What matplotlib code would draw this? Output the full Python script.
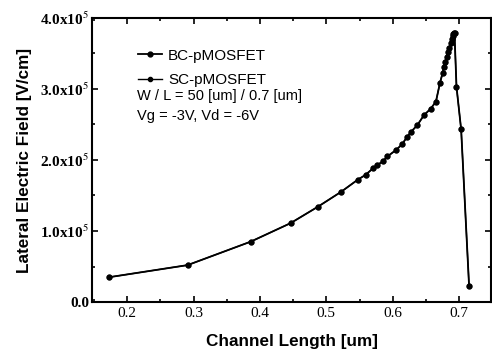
import numpy as np
import matplotlib.pyplot as plt
from matplotlib.ticker import MultipleLocator, FixedLocator

# channel position [um] and lateral field [1e5 V/cm]
bc_x = [0.173, 0.291, 0.386, 0.446, 0.487, 0.522, 0.547, 0.559, 0.570, 0.577,
        0.585, 0.592, 0.605, 0.614, 0.622, 0.628, 0.637, 0.647, 0.657, 0.665,
        0.671, 0.675, 0.677, 0.679, 0.681, 0.683, 0.685, 0.687, 0.689, 0.690,
        0.691, 0.692, 0.693, 0.696, 0.703, 0.715]
bc_y = [0.35, 0.52, 0.85, 1.11, 1.34, 1.55, 1.72, 1.79, 1.88, 1.93,
        1.98, 2.05, 2.14, 2.22, 2.33, 2.40, 2.49, 2.63, 2.72, 2.82,
        3.08, 3.22, 3.31, 3.38, 3.45, 3.52, 3.58, 3.64, 3.70, 3.74,
        3.77, 3.79, 3.78, 3.03, 2.43, 0.22]
sc_x = list(bc_x)
sc_y = list(bc_y)

yticks = [0, 1, 2, 3, 4]
ytick_labels = ['0.0', r'1.0x10$^5$', r'2.0x10$^5$', r'3.0x10$^5$', r'4.0x10$^5$']
xticks = [0.2, 0.3, 0.4, 0.5, 0.6, 0.7]

plt.rcParams['mathtext.fontset'] = 'stix'

fig = plt.figure(figsize=(4.92, 3.5), dpi=100)
ax = fig.add_axes([0.187, 0.137, 0.811, 0.812])

ax.plot(bc_x, bc_y, '-o', color='black', lw=1.3, ms=3.5, label='BC-pMOSFET')
ax.plot(sc_x, sc_y, '-o', color='black', lw=1.0, ms=3.0, label='SC-pMOSFET')

ax.set_xlim(0.147, 0.748)
ax.set_ylim(0, 4)
ax.xaxis.set_major_locator(FixedLocator(xticks))
ax.xaxis.set_minor_locator(MultipleLocator(0.05))
ax.yaxis.set_major_locator(FixedLocator(yticks))
ax.yaxis.set_minor_locator(MultipleLocator(0.5))
ax.set_xticklabels(['%.1f' % t for t in xticks], family='Liberation Serif', fontsize=11)
ax.set_yticklabels(ytick_labels, family='Liberation Serif', fontsize=11, fontweight='bold')
ax.tick_params(which='both', direction='in', top=True, right=True, width=1.2)
ax.tick_params(which='major', length=4)
ax.tick_params(which='minor', length=2)
ax.tick_params(axis='y', pad=2)
for s in ax.spines.values():
    s.set_linewidth(1.5)

ax.set_xlabel('Channel Length [um]', family='Liberation Sans', fontsize=12.3,
              fontweight='bold', labelpad=10)
ax.set_ylabel('Lateral Electric Field [V/cm]', family='Liberation Sans', fontsize=12.3,
              fontweight='bold', labelpad=6)

ax.legend(loc='upper left', bbox_to_anchor=(0.08, 0.94), frameon=False,
          prop={'family': 'Liberation Sans', 'size': 11}, handlelength=1.6,
          handletextpad=0.4, labelspacing=0.7)
ax.text(0.113, 0.71, 'W / L = 50 [um] / 0.7 [um]', transform=ax.transAxes,
        family='Liberation Sans', fontsize=10.5)
ax.text(0.113, 0.64, 'Vg = -3V, Vd = -6V', transform=ax.transAxes,
        family='Liberation Sans', fontsize=10.5)

fig.savefig('out.png', dpi=100)
